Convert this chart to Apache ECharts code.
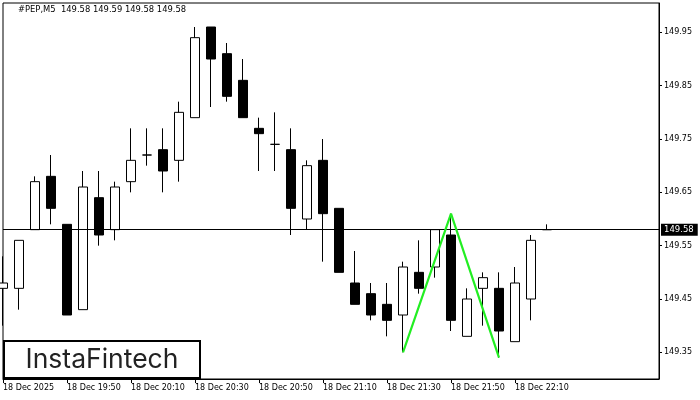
<!DOCTYPE html>
<html>
<head>
<meta charset="utf-8">
<script src="https://cdn.jsdelivr.net/npm/echarts@6.0.0/dist/echarts.min.js"></script>
<style>
html,body{margin:0;padding:0;background:#fff;}
#chart{width:700px;height:400px;}
</style>
</head>
<body>
<div id="chart"></div>
<script>
var symbolName = '#PEP,M5';
var categories = ['19:30','19:35','19:40','19:45','19:50','19:55',
  '20:00','20:05','20:10','20:15','20:20','20:25','20:30','20:35','20:40','20:45','20:50','20:55',
  '21:00','21:05','21:10','21:15','21:20','21:25','21:30','21:35','21:40','21:45','21:50','21:55',
  '22:00','22:05','22:10','22:15','22:20','22:25','22:30','22:35','22:40','22:45','22:50','22:55'];
var opens  = [149.47,149.47,149.58,149.68,149.59,149.43,149.64,149.58,149.67,149.72,149.73,149.71,149.79,149.96,149.91,149.86,149.77,149.74,149.73,149.60,149.71,149.62,149.48,149.46,149.44,149.42,149.50,149.51,149.57,149.38,149.47,149.47,149.37,149.45,149.58];
var highs  = [149.53,149.56,149.68,149.72,149.59,149.69,149.69,149.67,149.77,149.77,149.77,149.82,149.96,149.96,149.93,149.90,149.79,149.80,149.77,149.71,149.75,149.62,149.54,149.48,149.48,149.52,149.56,149.58,149.61,149.47,149.50,149.50,149.51,149.57,149.59];
var lows   = [149.40,149.43,149.58,149.59,149.42,149.43,149.55,149.56,149.65,149.70,149.65,149.67,149.79,149.81,149.82,149.79,149.69,149.69,149.57,149.58,149.52,149.50,149.44,149.41,149.38,149.35,149.46,149.49,149.39,149.38,149.40,149.34,149.37,149.41,149.58];
var closes = [149.48,149.56,149.67,149.62,149.42,149.66,149.57,149.66,149.71,149.72,149.69,149.80,149.94,149.90,149.83,149.79,149.76,149.74,149.62,149.70,149.61,149.50,149.44,149.42,149.41,149.51,149.47,149.58,149.41,149.45,149.49,149.39,149.48,149.56,149.58];
var patternIdx  = [25, 28, 31];
var patternVals = [149.35, 149.61, 149.34];
var xTickLabels = ['18 Dec 2025','18 Dec 19:50','18 Dec 20:10','18 Dec 20:30','18 Dec 20:50','18 Dec 21:10','18 Dec 21:30','18 Dec 21:50','18 Dec 22:10'];
var yTickValues = [149.35,149.45,149.55,149.65,149.75,149.85,149.95];
var currentPrice = 149.58;

var last = opens.length - 1;
var titleText = symbolName + '  ' + opens[last].toFixed(2) + ' ' + highs[last].toFixed(2) + ' ' + lows[last].toFixed(2) + ' ' + closes[last].toFixed(2);
var candleData = opens.map(function (o, i) { return [o, closes[i], lows[i], highs[i]]; });
var patternData = patternIdx.map(function (x, i) { return [x, patternVals[i]]; });
function showTick(idx) { return idx % 4 === 0 && (idx / 4) < xTickLabels.length; }

var FONT = 'DejaVu Sans';
var chart = echarts.init(document.getElementById('chart'), null, {renderer: 'canvas'});
chart.setOption({
  animation: false,
  backgroundColor: '#fff',
  title: {
    text: titleText, left: 13, top: 1,
    textStyle: {fontFamily: FONT, fontSize: 8.4, fontWeight: 'normal', color: '#000'}
  },
  grid: {left: 3, top: 3, width: 656, height: 376, show: true, borderColor: '#000', borderWidth: 1, backgroundColor: '#fff', containLabel: false},
  xAxis: {
    type: 'category', data: categories, boundaryGap: false,
    axisLine: {show: true, lineStyle: {color: '#000', width: 1}},
    axisTick: {show: true, interval: function (idx) { return showTick(idx); }, length: 4, lineStyle: {color: '#000'}},
    axisLabel: {
      interval: function (idx) { return showTick(idx); },
      formatter: function (v, idx) { return xTickLabels[idx / 4] || ''; },
      align: 'left', fontFamily: FONT, fontSize: 8, color: '#000', margin: 5
    },
    splitLine: {show: false}
  },
  yAxis: {
    type: 'value', position: 'right', min: 149.3, max: 150.005,
    axisLine: {show: true, lineStyle: {color: '#000', width: 1}},
    axisTick: {show: true, customValues: yTickValues, length: 3, lineStyle: {color: '#000'}},
    axisLabel: {customValues: yTickValues, formatter: function (v) { return v.toFixed(2); }, fontFamily: FONT, fontSize: 8, color: '#000', margin: 5},
    splitLine: {show: false}
  },
  series: [
    {
      type: 'candlestick', data: candleData, barWidth: 9, clip: true,
      itemStyle: {color: '#fff', color0: '#000', borderColor: '#000', borderColor0: '#000', borderColorDoji: '#000', borderWidth: 1}
    },
    {
      type: 'line', data: [], silent: true,
      markLine: {
        silent: true, symbol: ['none', 'none'], animation: false,
        lineStyle: {color: '#000', width: 1, type: 'solid'},
        label: {show: true, position: 'end', distance: 2, formatter: currentPrice.toFixed(2), backgroundColor: '#000', color: '#fff', padding: [2, 4, 1, 3], fontFamily: FONT, fontSize: 8.5},
        emphasis: {disabled: true},
        data: [{yAxis: currentPrice}]
      }
    },
    {
      type: 'line', data: patternData, symbol: 'none', z: 5, silent: true,
      lineStyle: {color: '#22ee22', width: 2.2}
    }
  ],
  graphic: [{
    type: 'group', z: 100,
    children: [
      {type: 'rect', shape: {x: 4, y: 341, width: 196, height: 37}, style: {fill: '#fff', stroke: '#000', lineWidth: 2}},
      {type: 'text', style: {text: 'InstaFintech', x: 102, y: 360, align: 'center', verticalAlign: 'middle', font: '400 26.5px Inter', fill: '#222'}}
    ]
  }]
});
</script>
</body>
</html>
